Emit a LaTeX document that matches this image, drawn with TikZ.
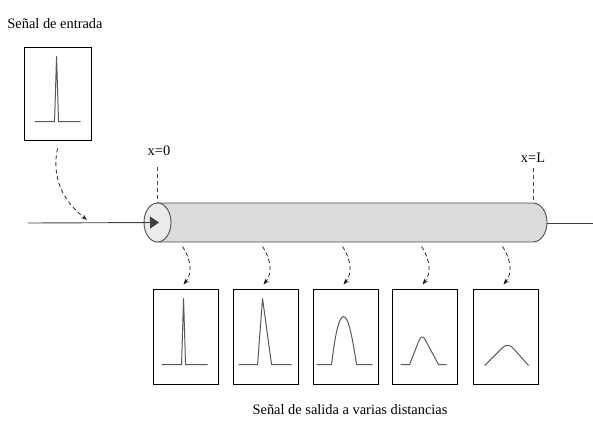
\documentclass[tikz,border=0pt]{standalone}
\usepackage{fontspec}
\setmainfont{Liberation Serif}
\usetikzlibrary{arrows.meta,shapes.geometric}
\begin{document}
\begin{tikzpicture}[x=1pt,y=-1pt,
  every node/.style={font=\fontsize{14.4}{16}\selectfont},
  sigbox/.style={draw=black,line width=0.9pt,rectangle,inner sep=0pt,
    minimum width=65pt,minimum height=95pt},
  pulse/.style={draw=black!65,line width=1pt,line join=round},
  cableline/.style={draw=black!70,line width=0.9pt},
  hop/.style={draw=black!85,line width=0.8pt,dash pattern=on 4pt off 3pt,
    -{Stealth[length=6pt,width=4.5pt]}},
  mark line/.style={draw=black!70,line width=0.8pt,dash pattern=on 4pt off 3pt},
  wire/.style={draw=black!75,line width=0.9pt}]
\useasboundingbox (0,0) rectangle (593,423);

% input signal
\node (intitle) at (55,24) {Señal de entrada};
\node[sigbox,minimum width=67pt,minimum height=93pt] (inbox) at (57.5,93.5) {};
\draw[pulse] ([shift={(11pt,-75pt)}]inbox.north west) -- ++(20pt,0pt)
  -- ++(2pt,65pt) -- ++(2pt,-65pt) -- ++(22pt,0pt);

% cable body with rounded far end
\fill[black!14] (157.5,203) -- (533,203)
  arc[start angle=90,end angle=-90,x radius=14pt,y radius=19.5pt]
  -- (157.5,242) -- cycle;
\draw[cableline] (157.5,203) -- (533,203)
  arc[start angle=90,end angle=-90,x radius=14pt,y radius=19.5pt]
  -- (157.5,242);
\node[ellipse,draw=black!70,fill=black!8,line width=0.9pt,inner sep=0pt,
  minimum width=27pt,minimum height=39pt] (inlet) at (157.5,222.5) {};
\coordinate (outlet) at (547,223);

% line in and out of the cable
\coordinate (src) at (28,223);
\coordinate (sink) at (593,223);
\draw[wire,-{Triangle[length=9pt,width=12pt]}] (src) -- ([xshift=1.5pt]inlet.center);
\draw[wire] (outlet) -- (sink);

% position markers
\node (x0) at (159,151) {x=0};
\node (xL) at (533,158) {x=L};
\draw[mark line] ([yshift=-8pt]x0.south -| inlet.north) -- (inlet.north);
\coordinate (endtop) at (533,203);
\draw[mark line] ([yshift=-2pt]xL.south -| endtop) -- (endtop);

% input hop onto the line
\coordinate (inhit) at (87,220);
\draw[hop] ([yshift=-8pt]inbox.south) .. controls (50,185) and (70,206) .. (inhit);

% output signals
\node[sigbox] (o1) at (185.5,336.5) {};
\node[sigbox] (o2) at (265.5,336.5) {};
\node[sigbox] (o3) at (345.5,336.5) {};
\node[sigbox] (o4) at (424.5,336.5) {};
\node[sigbox] (o5) at (505.5,336.5) {};

\foreach \b in {o1,o2,o3,o4,o5}{
  \coordinate (t\b) at ([shift={(-3pt,-4pt)}]\b.north |- inlet.south);
  \draw[hop] (t\b) .. controls ([shift={(10pt,-16pt)}]t\b) and ([shift={(9pt,-28pt)}]t\b)
    .. ([shift={(-2pt,4pt)}]\b.north);
}

\begin{scope}[shift={(o1.north west)}]
  \draw[pulse] (9,76) -- (29,76) -- (31,10) -- (33,76) -- (55,76);
\end{scope}
\begin{scope}[shift={(o2.north west)}]
  \draw[pulse] (6,76) -- (25,76) -- (30,10) -- (39,76) -- (59,76);
\end{scope}
\begin{scope}[shift={(o3.north west)}]
  \draw[pulse] (4,76) -- (19,76) .. controls (22,50) and (26,28) .. (31,28)
    .. controls (36,28) and (40,50) .. (44,76) -- (60,76);
\end{scope}
\begin{scope}[shift={(o4.north west)}]
  \draw[pulse] (9,76) -- (18,76) -- (27,53) .. controls (29,48) and (31,47) .. (33,50)
    -- (47,76) -- (55,76);
\end{scope}
\begin{scope}[shift={(o5.north west)}]
  \draw[pulse] (12,77) -- (30,59) .. controls (33,56) and (37,56) .. (40,59) -- (56,77);
\end{scope}

\node (outtitle) at (350,410) {Señal de salida a varias distancias};
\end{tikzpicture}
\end{document}
